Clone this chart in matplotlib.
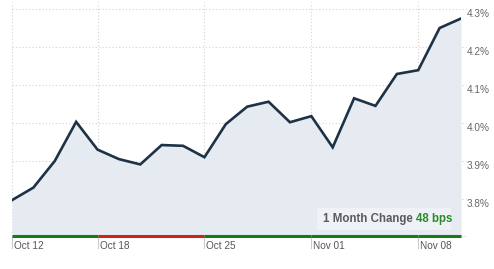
import matplotlib
matplotlib.use("Agg")
import matplotlib.pyplot as plt
from matplotlib.transforms import offset_copy

plt.rcParams['font.family'] = ['Liberation Sans', 'DejaVu Sans']

# ---- data ----
dates = ["Oct 12", "Oct 13", "Oct 14", "Oct 15", "Oct 18", "Oct 19", "Oct 20", "Oct 21",
         "Oct 22", "Oct 25", "Oct 26", "Oct 27", "Oct 28", "Oct 29", "Nov 01", "Nov 02",
         "Nov 03", "Nov 04", "Nov 05", "Nov 08", "Nov 09", "Nov 10"]
yields = [3.797, 3.830, 3.900, 4.003, 3.930, 3.905, 3.891, 3.942, 3.940, 3.910, 3.997,
          4.043, 4.056, 4.002, 4.018, 3.936, 4.065, 4.045, 4.129, 4.139, 4.250, 4.275]
tick_labels = ["Oct 12", "Oct 18", "Oct 25", "Nov 01", "Nov 08"]
y_ticks = [3.8, 3.9, 4.0, 4.1, 4.2, 4.3]
y_tick_labels = ["3.8%", "3.9%", "4.0%", "4.1%", "4.2%", "4.3%"]
change_label = "1 Month Change"
change_value = "48 bps"

W, H = 494, 269
fig = plt.figure(figsize=(W / 100, H / 100), dpi=100)
L, R, B, T = 12, 461, 236, 2
ax = fig.add_axes([L / W, 1 - B / H, (R - L) / W, (B - T) / H])

x = list(range(len(yields)))
ax.set_xlim(0, len(yields) - 1)
ax.set_ylim(3.8 - (B - 199) / 380, 3.8 + (199 - T) / 380)
ybot = ax.get_ylim()[0]

grid_c = "#d3d3d3"
# horizontal gridlines (extend a bit past right edge)
for v in y_ticks:
    ax.plot([0, 1 + 5 / (R - L)], [v, v], transform=ax.get_yaxis_transform(),
            color=grid_c, lw=0.8, ls=(0, (1, 2)), clip_on=False, zorder=1)
# bottom dotted extension
ax.plot([1, 1 + 5 / (R - L)], [ybot, ybot], transform=ax.get_yaxis_transform(),
        color=grid_c, lw=0.8, ls=(0, (1, 2)), clip_on=False, zorder=1)

tick_idx = [dates.index(t) for t in tick_labels]
for i in tick_idx:
    ax.axvline(i, color=grid_c, lw=0.8, ls=(0, (1, 2)), zorder=1)

ax.fill_between(x, yields, ybot, color="#e6ebf2", zorder=2, lw=0)
ax.plot(x, yields, color="#1e3246", lw=1.9, zorder=3, solid_joinstyle="miter")

# weekly colored baseline
bounds = tick_idx + [len(yields) - 1]
for a, b in zip(bounds[:-1], bounds[1:]):
    col = "#1a7a1a" if yields[b] >= yields[a] else "#cc2222"
    ax.plot([a, b], [ybot, ybot], color=col, lw=2.2, solid_capstyle="butt",
            clip_on=False, zorder=5)

# x tick marks and labels
for i, lab in zip(tick_idx, tick_labels):
    ax.plot([i, i], [0, -12 / (B - T)], transform=ax.get_xaxis_transform(),
            color="#cccccc", lw=0.8, clip_on=False, zorder=1)
    ax.annotate(lab, xy=(i, 0), xycoords=ax.get_xaxis_transform(),
                xytext=(2, -10), textcoords="offset pixels",
                ha="left", va="center", fontsize=7.2, color="#555555")

# y labels on the right
for v, lab in zip(y_ticks, y_tick_labels):
    ax.annotate(lab, xy=(1, v), xycoords=ax.get_yaxis_transform(),
                xytext=(6, -5), textcoords="offset pixels",
                ha="left", va="center", fontsize=7.2, color="#666666")

# change box
from matplotlib.patches import Rectangle
box = Rectangle((317 / W, 1 - 230 / H), (451 - 317) / W, 22 / H,
                transform=fig.transFigure, facecolor="#eef1f6", edgecolor="none", zorder=6)
fig.patches.append(box)
t1 = fig.text(323 / W, 1 - 219 / H, change_label + " ", fontsize=8.3, fontweight="bold",
              color="#5a5a5a", ha="left", va="center", zorder=7)
fig.canvas.draw()
bb = t1.get_window_extent()
fig.text(bb.x1 / W, 1 - 219 / H, change_value, fontsize=8.3, fontweight="bold",
         color="#2a8a2a", ha="left", va="center", zorder=7)

for s in ax.spines.values():
    s.set_visible(False)
ax.set_xticks([])
ax.set_yticks([])
ax.patch.set_alpha(0)

fig.savefig("out.png", dpi=100)
